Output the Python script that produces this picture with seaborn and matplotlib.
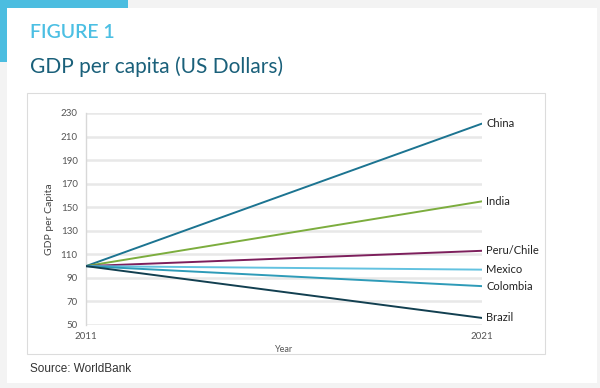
import numpy as np
import pandas as pd
import matplotlib
matplotlib.use('Agg')
import matplotlib.pyplot as plt
import seaborn as sns
from matplotlib.patches import Rectangle

# data (index, 2011 = 100)
countries = ['China', 'India', 'Peru/Chile', 'Mexico', 'Colombia', 'Brazil']
years = [2011, 2021]
start_vals = [100, 100, 100, 100, 100, 100]
end_vals = [221, 155, 113, 97, 83, 56]
colors = ['#1c7491', '#7cad3e', '#7d1f5c', '#63c2e0', '#2e9bb8', '#123f50']
y_ticks = [50, 70, 90, 110, 130, 150, 170, 190, 210, 230]

rows = []
for c, s, e in zip(countries, start_vals, end_vals):
    rows.append({'Year': years[0], 'Country': c, 'Value': s})
    rows.append({'Year': years[1], 'Country': c, 'Value': e})
df = pd.DataFrame(rows)

sns.set_style('white')
plt.rcParams['font.family'] = ['Lato', 'DejaVu Sans']

W, H = 600, 388
fig = plt.figure(figsize=(6, 3.88), dpi=100)
fig.patch.set_facecolor('#f3f3f3')

def px_rect(x0, y0, x1, y1, **kw):
    # rectangle given in pixel coords (top-left origin)
    return Rectangle((x0 / W, 1 - y1 / H), (x1 - x0) / W, (y1 - y0) / H,
                     transform=fig.transFigure, zorder=-10, **kw)

fig.patches.append(px_rect(0, 0, 128, 8, facecolor='#4bbde0', edgecolor='none'))
fig.patches.append(px_rect(0, 0, 7, 62, facecolor='#4bbde0', edgecolor='none'))
fig.patches.append(px_rect(7, 8, 597, 383, facecolor='white', edgecolor='none'))
fig.patches.append(px_rect(27, 93, 545, 354, facecolor='white', edgecolor='#dcdcdc', linewidth=0.8))

fig.text(30 / W, 1 - 33 / H, 'FIGURE 1', color='#4bbfe3', fontsize=14, fontweight='semibold',
         va='center', ha='left')
fig.text(30 / W, 1 - 67 / H, 'GDP per capita (US Dollars)', color='#1a607a', fontsize=15,
         va='center', ha='left')
fig.text(30 / W, 1 - 369 / H, 'Source: WorldBank', color='#333333', fontsize=8.5, va='center', ha='left',
         family=['Liberation Sans', 'DejaVu Sans'])

ax = fig.add_axes([86 / W, 1 - 325 / H, (482 - 86) / W, (325 - 113) / H])
ax.set_facecolor('none')
for yt in y_ticks:
    ax.axhline(yt, color='#e8e8e8', linewidth=1.8, zorder=0)

sns.lineplot(data=df, x='Year', y='Value', hue='Country', hue_order=countries,
             palette=colors, linewidth=1.4, legend=False, ax=ax, zorder=3)

ax.set_xlim(years[0], years[1])
ax.set_ylim(50, 230)
ax.set_xticks(years)
ax.set_yticks(y_ticks)
ax.tick_params(axis='both', labelsize=7, colors='#555555', length=0, pad=6)
ax.tick_params(axis='x', pad=5)
for s in ['top', 'right', 'bottom']:
    ax.spines[s].set_visible(False)
ax.spines['left'].set_color('#d8d8d8')
ax.spines['left'].set_linewidth(1.0)
ax.set_xlabel('Year', fontsize=6.5, color='#555555', labelpad=3)
ax.set_ylabel('GDP per Capita', fontsize=7.5, color='#444444', labelpad=5)

for c, e in zip(countries, end_vals):
    ax.annotate(c, xy=(years[1], e), xytext=(3, 0), textcoords='offset points',
                fontsize=8, color='#222222', va='center', ha='left', annotation_clip=False)

fig.savefig('out.png', dpi=100, facecolor=fig.get_facecolor())
